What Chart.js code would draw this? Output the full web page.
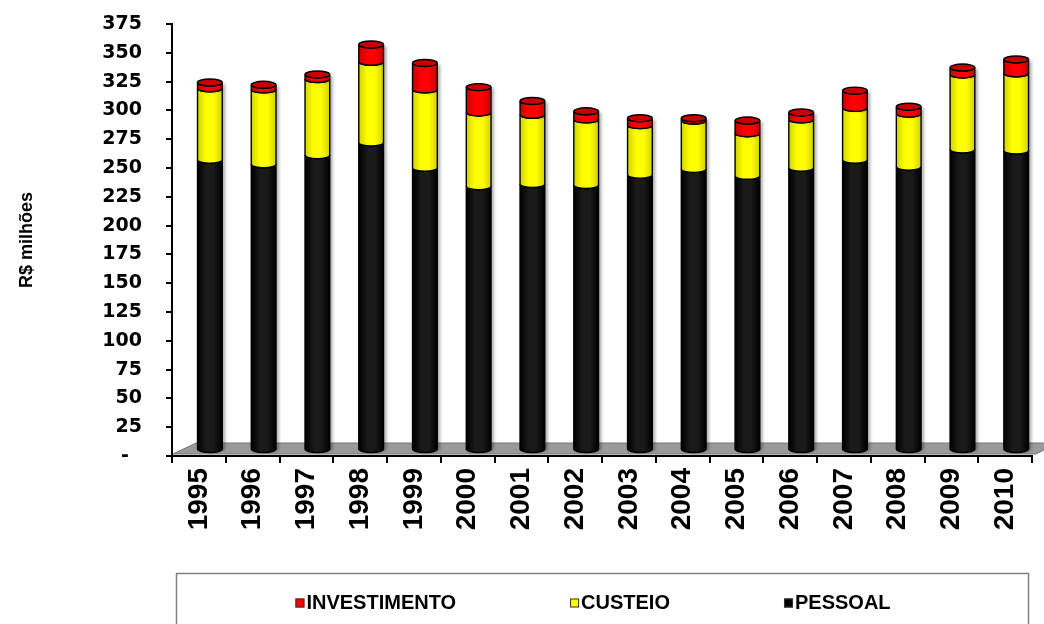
<!DOCTYPE html>
<html lang="pt-BR">
<head>
<meta charset="UTF-8">
<title>Despesas 1995-2010</title>
<style>
  body { margin: 0; background: #fff; }
  #wrap { width: 1044px; height: 624px; }
</style>
</head>
<body>
<div id="wrap"><canvas id="grafico"></canvas></div>
<script src="https://cdn.jsdelivr.net/npm/chart.js@4.4.0/dist/chart.umd.min.js"></script>
<script>
// despesas anuais, R$ milhões
const anos = ['1995', '1996', '1997', '1998', '1999', '2000', '2001', '2002',
              '2003', '2004', '2005', '2006', '2007', '2008', '2009', '2010'];
const pessoal      = [252, 248, 256, 267, 245, 229, 231, 230, 239, 244, 238, 245, 252, 246, 261, 260];
const custeio      = [ 62,  65,  66,  70,  68,  64,  60,  57,  43,  42,  37,  42,  45,  46,  65,  67];
const investimento = [  5,   4,   4,  15,  23,  22,  12,   7,   6,   2,  11,   6,  15,   6,   6,  12];

// deslocamento de "profundidade" das colunas sobre o piso
const DX = 11, DY = -6;
const RY = 3.5;

const bordas = { '#000000': '#000000', '#ffff00': '#d2d200', '#ff0000': '#c80000' };
const meios  = { '#000000': '#1a1a1a', '#ffff00': '#ffff00', '#ff0000': '#ff0000' };

function gradiente(ctx, x0, x1, cor) {
  const g = ctx.createLinearGradient(x0, 0, x1, 0);
  g.addColorStop(0, bordas[cor]);
  g.addColorStop(0.35, meios[cor]);
  g.addColorStop(0.65, meios[cor]);
  g.addColorStop(1, bordas[cor]);
  return g;
}

const cilindros = {
  id: 'cilindros',
  beforeDatasetsDraw(chart) {
    // piso cinza em perspectiva
    const { ctx, chartArea: a } = chart;
    ctx.save();
    ctx.beginPath();
    ctx.moveTo(a.left + 1, a.bottom - 2);
    ctx.lineTo(a.right + 4, a.bottom - 2);
    ctx.lineTo(a.right + 26, a.bottom - 13);
    ctx.lineTo(a.left + 24, a.bottom - 13);
    ctx.closePath();
    ctx.fillStyle = '#9a9a9a';
    ctx.fill();
    ctx.strokeStyle = '#777';
    ctx.lineWidth = 1;
    ctx.stroke();
    ctx.restore();
  },
  beforeDatasetDraw() {
    return false; // as colunas são desenhadas como cilindros abaixo
  },
  afterDatasetsDraw(chart) {
    const ctx = chart.ctx;
    const nds = chart.data.datasets.length;
    ctx.save();
    ctx.translate(DX, DY);
    ctx.lineWidth = 1.4;
    ctx.strokeStyle = '#000';
    for (let i = 0; i < chart.data.labels.length; i++) {
      for (let d = 0; d < nds; d++) {
        const cor = chart.data.datasets[d].backgroundColor;
        const el = chart.getDatasetMeta(d).data[i];
        const { x, y, base, width } = el.getProps(['x', 'y', 'base', 'width'], true);
        const rx = width / 2, l = x - rx, r = x + rx;

        ctx.save();
        ctx.shadowColor = 'rgba(0,0,0,0.3)';
        ctx.shadowBlur = 3;
        ctx.shadowOffsetX = 3;
        ctx.beginPath();
        ctx.moveTo(l, y);
        ctx.lineTo(l, base);
        ctx.ellipse(x, base, rx, RY, 0, Math.PI, 0, true);
        ctx.lineTo(r, y);
        ctx.ellipse(x, y, rx, RY, 0, 0, Math.PI, false);
        ctx.closePath();
        ctx.fillStyle = gradiente(ctx, l, r, cor);
        ctx.fill();
        ctx.restore();
        ctx.stroke();

        if (d === nds - 1) {
          ctx.beginPath();
          ctx.ellipse(x, y, rx, RY, 0, 0, Math.PI * 2);
          ctx.fillStyle = bordas[cor];
          ctx.fill();
          ctx.stroke();
        }
      }
    }
    ctx.restore();
  }
};

// legenda em caixa abaixo do gráfico
const legendaCaixa = {
  id: 'legendaCaixa',
  afterDraw(chart) {
    const ctx = chart.ctx;
    const caixa = { left: 176, top: 573, right: 1028 };
    const cy = 603, lado = 9, gap = 114, centro = 593;
    ctx.save();
    ctx.strokeStyle = '#808080';
    ctx.lineWidth = 1.5;
    ctx.strokeRect(caixa.left + 0.5, caixa.top + 0.5, caixa.right - caixa.left, 80);

    ctx.font = 'bold 20px "Liberation Sans", Arial, sans-serif';
    ctx.textBaseline = 'middle';
    const itens = chart.data.datasets.slice().reverse();
    const larguras = itens.map(ds => lado + 2 + ctx.measureText(ds.label).width);
    const total = larguras.reduce((a, b) => a + b, 0) + gap * (itens.length - 1);
    let x = centro - total / 2;
    itens.forEach((ds, k) => {
      ctx.fillStyle = ds.backgroundColor;
      ctx.fillRect(x, cy - lado / 2, lado, lado);
      ctx.strokeStyle = '#333';
      ctx.lineWidth = 1;
      ctx.strokeRect(x + 0.5, cy - lado / 2 + 0.5, lado - 1, lado - 1);
      ctx.fillStyle = '#000';
      ctx.fillText(ds.label, x + lado + 2, cy);
      x += larguras[k] + gap;
    });
    ctx.restore();
  }
};

Chart.defaults.font.family = '"Liberation Sans", Arial, sans-serif';
Chart.defaults.color = '#000';

new Chart(document.getElementById('grafico'), {
  type: 'bar',
  data: {
    labels: anos,
    datasets: [
      { label: 'PESSOAL', data: pessoal, backgroundColor: '#000000' },
      { label: 'CUSTEIO', data: custeio, backgroundColor: '#ffff00' },
      { label: 'INVESTIMENTO', data: investimento, backgroundColor: '#ff0000' }
    ]
  },
  options: {
    responsive: true,
    maintainAspectRatio: false,
    animation: false,
    layout: { padding: { top: 24, right: 6, left: 0, bottom: 0 } },
    datasets: { bar: { barPercentage: 0.46, categoryPercentage: 1 } },
    plugins: {
      legend: { display: false },
      tooltip: { enabled: false }
    },
    scales: {
      x: {
        stacked: true,
        offset: true,
        afterFit: (s) => { s.height = 168; },
        grid: { offset: true, drawOnChartArea: false, drawTicks: true, tickLength: 7, color: '#000', lineWidth: 2 },
        border: { color: '#000', width: 2 },
        ticks: {
          autoSkip: false,
          minRotation: 90,
          maxRotation: 90,
          padding: 5,
          font: { size: 28, weight: 'bold' }
        }
      },
      y: {
        stacked: true,
        min: 0,
        max: 375,
        // largura fixa do eixo; o espaçamento dos rótulos não deve empurrar o topo
        afterFit: (s) => { s.width = 172; s.paddingTop = 10; s.paddingBottom = 10; },
        grid: { drawOnChartArea: false, drawTicks: true, tickLength: 6, color: '#000', lineWidth: 2 },
        border: { color: '#000', width: 2 },
        ticks: {
          stepSize: 25,
          padding: 24,
          font: { family: '"DejaVu Sans", sans-serif', size: 19, weight: 'bold' },
          callback: (v) => v === 0 ? '-  ' : v
        },
        title: {
          display: true,
          text: 'R$ milhões',
          padding: 16,
          font: { size: 18, weight: 'bold' }
        }
      }
    }
  },
  plugins: [cilindros, legendaCaixa]
});
</script>
</body>
</html>
